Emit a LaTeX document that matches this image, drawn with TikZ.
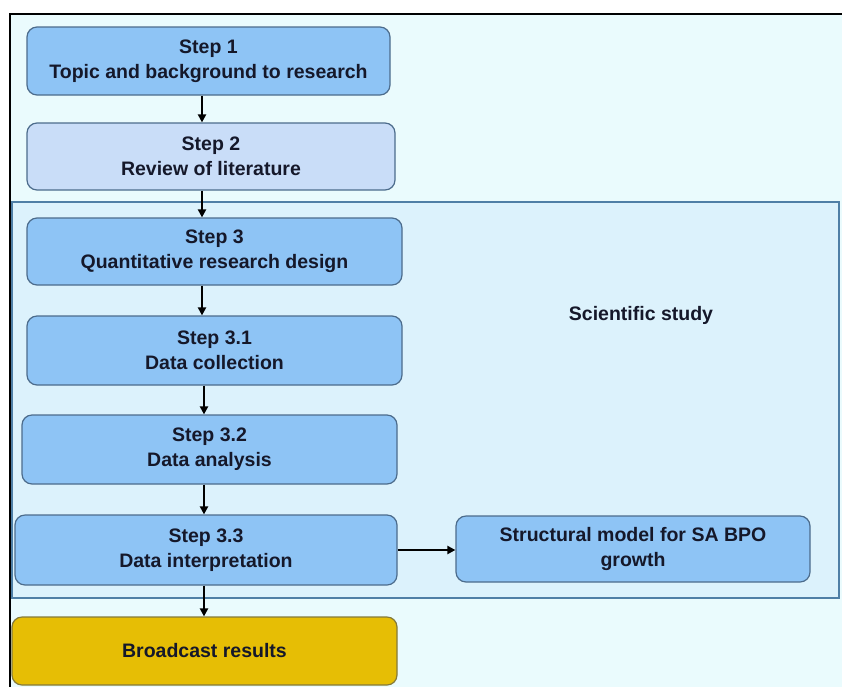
\documentclass[tikz,border=0pt]{standalone}
\usepackage{fontspec}
\setmainfont{Liberation Sans}
\usetikzlibrary{arrows.meta}
\definecolor{pagebg}{HTML}{EAFBFD}
\definecolor{studybg}{HTML}{DCF2FC}
\definecolor{studyline}{HTML}{4F7FA6}
\definecolor{stepfill}{HTML}{8EC4F5}
\definecolor{stepfilllight}{HTML}{C9DDF8}
\definecolor{stepline}{HTML}{4C6C8C}
\definecolor{resultfill}{HTML}{E6BE05}
\definecolor{resultline}{HTML}{857A3A}
\definecolor{ink}{HTML}{15182A}
\tikzset{
  stepbox/.style={draw=stepline, line width=1.2pt, fill=stepfill, rounded corners=10pt,
    inner sep=0pt, align=center, text=ink,
    font=\fontsize{19.5}{25}\selectfont\bfseries},
  flow/.style={-{Triangle[length=8pt,width=8pt]}, line width=2pt, draw=black},
}
\begin{document}
\begin{tikzpicture}[x=1pt,y=-1pt]
  \useasboundingbox (0,0) rectangle (842,686);
  \clip (0,0) rectangle (842,686);
  % page frame
  \fill[white] (0,0) rectangle (842,686);
  \draw[fill=pagebg, draw=black, line width=1.5pt] (10,14) rectangle (860,700);
  % scientific study frame
  \draw[fill=studybg, draw=studyline, line width=2pt] (12,202) rectangle (839,598);
  \node[text=ink, font=\fontsize{19.5}{25}\selectfont\bfseries] (study) at (641,315) {Scientific study};
  % steps
  \node[stepbox, minimum width=363pt, minimum height=68pt] (s1) at (208.5,61) {Step 1\\Topic and background to research};
  \node[stepbox, fill=stepfilllight, minimum width=368pt, minimum height=67pt] (s2) at (211,156.5) {Step 2\\Review of literature};
  \node[stepbox, minimum width=375pt, minimum height=67pt] (s3) at (214.5,251.5) {Step 3\\Quantitative research design};
  \node[stepbox, minimum width=375pt, minimum height=69pt] (s31) at (214.5,350.5) {Step 3.1\\Data collection};
  \node[stepbox, minimum width=375pt, minimum height=69pt] (s32) at (209.5,449.5) {Step 3.2\\Data analysis};
  \node[stepbox, minimum width=382pt, minimum height=70pt] (s33) at (206,550) {Step 3.3\\Data interpretation};
  \node[stepbox, minimum width=354pt, minimum height=66pt] (model) at (633,549) {Structural model for SA BPO\\growth};
  \node[stepbox, fill=resultfill, draw=resultline, minimum width=385pt, minimum height=68pt] (result) at (204.5,651) {Broadcast results};
  % connectors
  \draw[flow] (s1.south -| 202,0) -- (s2.north -| 202,0);
  \draw[flow] (s2.south -| 202,0) -- (s3.north -| 202,0);
  \draw[flow] (s3.south -| 202,0) -- (s31.north -| 202,0);
  \draw[flow] (s31.south -| 204,0) -- (s32.north -| 204,0);
  \draw[flow] (s32.south -| 204,0) -- (s33.north -| 204,0);
  \draw[flow] (s33.south -| 204,0) -- (result.north -| 204,0);
  \draw[flow] (s33.east |- 0,550) -- (model.west |- 0,550);
\end{tikzpicture}
\end{document}
